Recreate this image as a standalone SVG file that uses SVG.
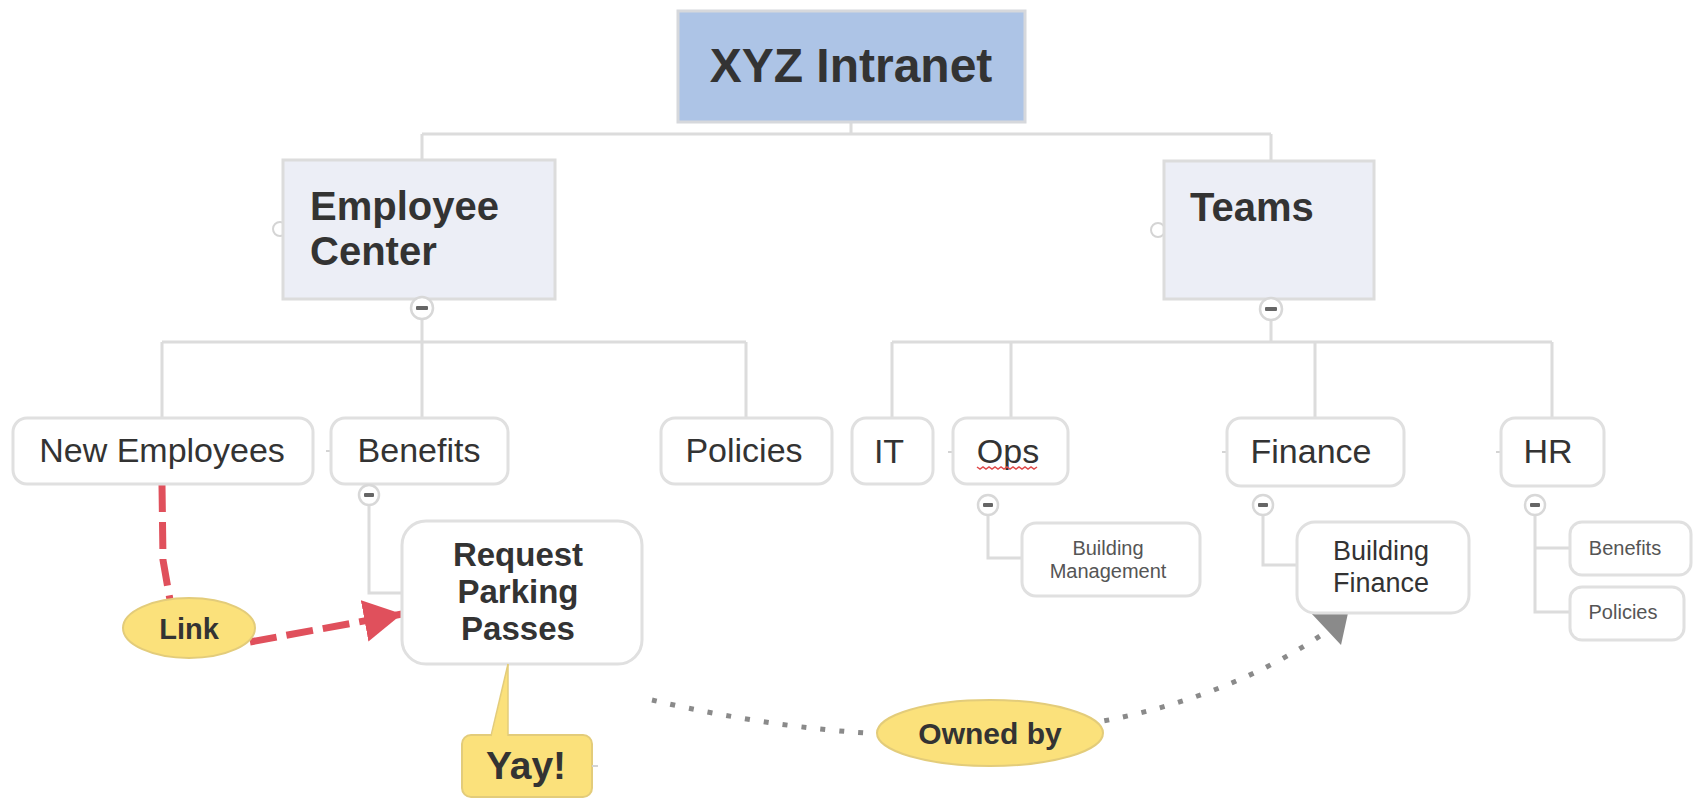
<svg xmlns="http://www.w3.org/2000/svg" width="1696" height="801" viewBox="0 0 1696 801">
<style>
.conn{fill:none;stroke:#dcdcdc;stroke-width:3}
.box{fill:#ffffff;stroke:#e0e0e0;stroke-width:3}
.main{fill:#eceef6;stroke:#dcdcdc;stroke-width:3}
.t{font-family:"Liberation Sans",Arial,sans-serif;fill:#333}
.b{font-weight:bold}
.c{text-anchor:middle}
.child{font-size:34px}
.small{font-size:20px;fill:#555}
.yellow{fill:#fbe17b;stroke:#e3cc7a;stroke-width:2}
.tog{fill:#ffffff;stroke:#d8d8d8;stroke-width:2.5}
.minus{fill:#666}
.nub{fill:#ffffff;stroke:#d4d4d4;stroke-width:2}
.red{fill:none;stroke:#e0505c;stroke-width:7;stroke-dasharray:27 10}
.dot{fill:none;stroke:#8a8a8a;stroke-width:5;stroke-dasharray:5 14}
</style>
<defs>
<marker id="redArrow" markerUnits="userSpaceOnUse" markerWidth="40" markerHeight="42" refX="38" refY="21" orient="auto" viewBox="0 0 40 42">
<path d="M0,0 L38,21 L0,42 Z" fill="#e0505c"/>
</marker>
</defs>
<rect width="1696" height="801" fill="#ffffff"/>

<g id="connectors">
<path class="conn" d="M851,121 V134 M422,134 H1271 M422,134 V160 M1271,134 V160"/>
<path class="conn" d="M422,318 V342 M162,342 H746 M162,342 V418 M422,342 V418 M746,342 V418"/>
<path class="conn" d="M1271,319 V342 M892,342 H1552 M892,342 V418 M1011,342 V418 M1315,342 V418 M1552,342 V418"/>
<path class="conn" d="M369,505 V593 H402"/>
<path class="conn" d="M988,515 V558 H1022"/>
<path class="conn" d="M1263,515 V565 H1296"/>
<path class="conn" d="M1535,515 V612 H1570 M1535,548 H1570"/>
<path class="red" d="M162,485 L163,560 L170,600"/>
<path class="red" d="M250,642 L402,614" marker-end="url(#redArrow)"/>
<path class="dot" d="M652,700 C820,740 1110,775 1320,636"/>
<polygon points="1311,613 1348,613 1341,645" fill="#8a8a8a"/>
</g>

<g id="node-xyz">
<rect x="678" y="11" width="347" height="111" fill="#adc4e6" stroke="#d6d8dc" stroke-width="3"/>
<text class="t b c" x="851" y="82" font-size="48">XYZ Intranet</text>
</g>

<g id="node-employee-center">
<circle class="nub" cx="280" cy="229" r="7"/>
<rect class="main" x="283" y="160" width="272" height="139"/>
<text class="t b" x="310" y="220" font-size="40">Employee</text>
<text class="t b" x="310" y="265" font-size="40">Center</text>
<circle class="tog" cx="422" cy="308" r="11"/>
<rect class="minus" x="416" y="306" width="12" height="4" rx="1"/>
</g>

<g id="node-teams">
<circle class="nub" cx="1158" cy="230" r="7"/>
<rect class="main" x="1164" y="161" width="210" height="138"/>
<text class="t b" x="1190" y="221" font-size="40">Teams</text>
<circle class="tog" cx="1271" cy="309" r="11"/>
<rect class="minus" x="1265" y="307" width="12" height="4" rx="1"/>
</g>

<g id="node-new-employees">
<rect class="box" x="13" y="418" width="300" height="66" rx="14"/>
<text class="t child c" x="162" y="462">New Employees</text>
</g>

<g id="node-benefits">
<line x1="326" y1="451" x2="331" y2="451" stroke="#d4d4d4" stroke-width="2"/>
<rect class="box" x="331" y="418" width="177" height="66" rx="14"/>
<text class="t child c" x="419" y="462">Benefits</text>
<circle class="tog" cx="369" cy="495" r="10"/>
<rect class="minus" x="364" y="493" width="10" height="4" rx="1"/>
</g>

<g id="node-policies">
<rect class="box" x="661" y="418" width="171" height="66" rx="14"/>
<text class="t child c" x="744" y="462">Policies</text>
</g>

<g id="node-it">
<rect class="box" x="852" y="418" width="81" height="66" rx="14"/>
<text class="t child c" x="889" y="463">IT</text>
</g>

<g id="node-ops">
<line x1="948" y1="452" x2="953" y2="452" stroke="#d4d4d4" stroke-width="2"/>
<rect class="box" x="953" y="418" width="115" height="66" rx="14"/>
<text class="t child c" x="1008" y="463">Ops</text>
<path d="M977,467 l3,2 l3,-2 l3,2 l3,-2 l3,2 l3,-2 l3,2 l3,-2 l3,2 l3,-2 l3,2 l3,-2 l3,2 l3,-2 l3,2 l3,-2 l3,2 l3,-2 l3,2 l3,-2" fill="none" stroke="#e04a4a" stroke-width="1.5"/>
<circle class="tog" cx="988" cy="505" r="10"/>
<rect class="minus" x="983" y="503" width="10" height="4" rx="1"/>
</g>

<g id="node-finance">
<line x1="1222" y1="452" x2="1227" y2="452" stroke="#d4d4d4" stroke-width="2"/>
<rect class="box" x="1227" y="418" width="177" height="68" rx="14"/>
<text class="t child c" x="1311" y="463">Finance</text>
<circle class="tog" cx="1263" cy="505" r="10"/>
<rect class="minus" x="1258" y="503" width="10" height="4" rx="1"/>
</g>

<g id="node-hr">
<line x1="1496" y1="452" x2="1501" y2="452" stroke="#d4d4d4" stroke-width="2"/>
<rect class="box" x="1501" y="418" width="103" height="68" rx="14"/>
<text class="t child c" x="1548" y="463">HR</text>
<circle class="tog" cx="1535" cy="505" r="10"/>
<rect class="minus" x="1530" y="503" width="10" height="4" rx="1"/>
</g>

<g id="node-request-parking">
<rect class="box" x="402" y="521" width="240" height="143" rx="24"/>
<text class="t b c" x="518" y="566" font-size="33">Request</text>
<text class="t b c" x="518" y="603" font-size="33">Parking</text>
<text class="t b c" x="518" y="640" font-size="33">Passes</text>
</g>

<g id="node-building-management">
<rect class="box" x="1022" y="523" width="178" height="73" rx="14"/>
<text class="t small c" x="1108" y="555">Building</text>
<text class="t small c" x="1108" y="578">Management</text>
</g>

<g id="node-building-finance">
<rect class="box" x="1297" y="522" width="172" height="91" rx="18"/>
<text class="t c" x="1381" y="560" font-size="27" fill="#444">Building</text>
<text class="t c" x="1381" y="592" font-size="27" fill="#444">Finance</text>
</g>

<g id="node-hr-benefits">
<rect class="box" x="1570" y="522" width="121" height="53" rx="12"/>
<text class="t small c" x="1625" y="555" font-size="20">Benefits</text>
</g>

<g id="node-hr-policies">
<rect class="box" x="1570" y="587" width="114" height="53" rx="12"/>
<text class="t small c" x="1623" y="619" font-size="20">Policies</text>
</g>

<g id="node-link">
<ellipse class="yellow" cx="189" cy="628" rx="66" ry="30"/>
<text class="t b c" x="189" y="639" font-size="29" fill="#3a3320">Link</text>
</g>

<g id="node-owned-by">
<ellipse class="yellow" cx="990" cy="733" rx="113" ry="33"/>
<text class="t b c" x="990" y="744" font-size="30" fill="#3a3320">Owned by</text>
</g>

<g id="node-yay">
<rect class="yellow" x="462" y="735" width="130" height="62" rx="9"/>
<polygon points="508,664 491,738 508,738" fill="#fbe17b"/>
<line x1="508" y1="664" x2="508" y2="736" stroke="#e3cc7a" stroke-width="1.5"/>
<line x1="508" y1="664" x2="491" y2="736" stroke="#e3cc7a" stroke-width="1.5"/>
<line x1="592" y1="766" x2="598" y2="766" stroke="#d4d4d4" stroke-width="2"/>
<text class="t b c" x="526" y="779" font-size="39" fill="#333">Yay!</text>
</g>
</svg>
